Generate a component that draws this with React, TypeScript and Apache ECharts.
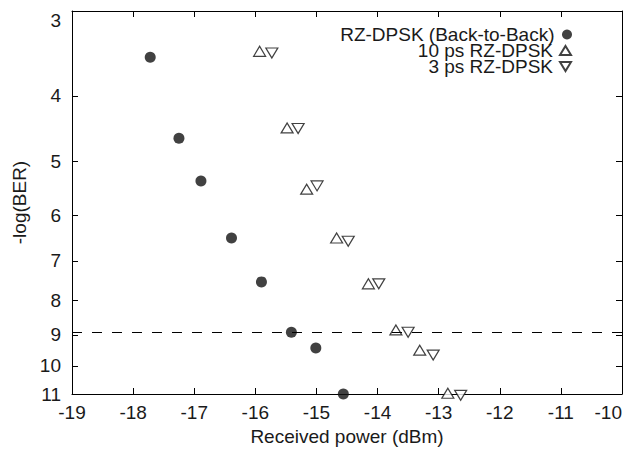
import React, { useEffect, useRef } from "react";
import * as echarts from "echarts";

const xTicks = [-19, -18, -17, -16, -15, -14, -13, -12, -11, -10];
const yTicks = [3, 4, 5, 6, 7, 8, 9, 10, 11];

const seriesNames = ["RZ-DPSK (Back-to-Back)", "10 ps RZ-DPSK", "3 ps RZ-DPSK"];

const backToBackX = [-17.72, -17.25, -16.89, -16.39, -15.9, -15.41, -15.01, -14.56];
const backToBackY = [3.51, 4.62, 5.34, 6.48, 7.52, 8.92, 9.41, 11.0];

const tenPsX = [-15.93, -15.48, -15.16, -14.67, -14.15, -13.7, -13.31, -12.85];
const tenPsY = [3.44, 4.46, 5.49, 6.48, 7.57, 8.85, 9.48, 10.97];

const threePsX = [-15.73, -15.3, -14.99, -14.48, -13.98, -13.5, -13.09, -12.64];
const threePsY = [3.46, 4.47, 5.43, 6.55, 7.57, 8.92, 9.64, 11.05];

const thresholdY = 9;

const FONT = "'Liberation Sans', Arial, sans-serif";
const TXT = "#1a1a1a";

const toPts = (xs: number[], ys: number[]) => xs.map((x, i) => [x, Math.log10(ys[i])]);

const downTri = "path://M0,0 L12,0 L6,10 Z";
const upTri = "path://M6,0 L12,10 L0,10 Z";

export default function App() {
  const ref = useRef<HTMLDivElement>(null);
  useEffect(() => {
    document.body.style.margin = "0";
    const chart = echarts.init(ref.current!, null, { renderer: "svg" });
    const yMin = Math.log10(yTicks[0]);
    const yMax = Math.log10(yTicks[yTicks.length - 1]);
    const yCustom = yTicks.map((v) => Math.log10(v));
    const fmtY = (v: number) => String(Math.round(Math.pow(10, v)));
    const mkTick = (custom?: number[]) => {
      const t: any = { show: true, inside: true, length: 6, lineStyle: { color: "#000", width: 1 } };
      if (custom) t.customValues = custom;
      return t;
    };
    const mkLine = () => ({ show: true, onZero: false, lineStyle: { color: "#000", width: 1 } });
    const legendBase = {
      right: 56,
      orient: "vertical",
      align: "right",
      padding: 0,
      itemWidth: 11,
      itemHeight: 10,
      itemGap: 0,
      textStyle: { fontFamily: FONT, fontSize: 19, color: TXT, lineHeight: 16, padding: [0, 2, 0, 0] },
      selectedMode: false,
    };
    chart.setOption({
      animation: false,
      backgroundColor: "#fff",
      grid: { left: 72, right: 6, top: 11, bottom: 64, containLabel: false },
      legend: [
        { ...legendBase, top: 25, data: [{ name: seriesNames[0], icon: "circle" }] },
        { ...legendBase, top: 41, data: [{ name: seriesNames[1], icon: upTri }] },
        { ...legendBase, top: 57, data: [{ name: seriesNames[2], icon: downTri }] },
      ],
      xAxis: [
        {
          type: "value",
          min: xTicks[0],
          max: xTicks[xTicks.length - 1],
          interval: 1,
          position: "bottom",
          name: "Received power (dBm)",
          nameLocation: "middle",
          nameGap: 29,
          nameTextStyle: { fontFamily: FONT, fontSize: 19, color: TXT },
          axisLine: mkLine(),
          axisTick: mkTick(),
          splitLine: { show: false },
          axisLabel: {
            fontFamily: FONT,
            fontSize: 19,
            color: TXT,
            margin: 9,
            alignMaxLabel: "right",
            formatter: (v: number) => String(v),
          },
        },
        {
          type: "value",
          min: xTicks[0],
          max: xTicks[xTicks.length - 1],
          interval: 1,
          position: "top",
          axisLine: mkLine(),
          axisTick: mkTick(),
          splitLine: { show: false },
          axisLabel: { show: false },
        },
      ],
      yAxis: [
        {
          type: "value",
          inverse: true,
          min: yMin,
          max: yMax,
          position: "left",
          name: "-log(BER)",
          nameLocation: "middle",
          nameGap: 43,
          nameTextStyle: { fontFamily: FONT, fontSize: 19, color: TXT },
          axisLine: mkLine(),
          axisTick: mkTick(yCustom),
          splitLine: { show: false },
          axisLabel: {
            customValues: yCustom,
            formatter: fmtY,
            fontFamily: FONT,
            fontSize: 19,
            color: TXT,
            margin: 11,
            verticalAlignMinLabel: "top",
          },
        },
        {
          type: "value",
          inverse: true,
          min: yMin,
          max: yMax,
          position: "right",
          axisLine: mkLine(),
          axisTick: mkTick(yCustom),
          splitLine: { show: false },
          axisLabel: { show: false, customValues: yCustom },
        },
      ],
      series: [
        {
          type: "line",
          name: "threshold",
          data: [],
          z: 1,
          markLine: {
            silent: true,
            symbol: "none",
            label: { show: false },
            lineStyle: { color: "#000", width: 1, type: [10, 10] },
            data: [{ yAxis: Math.log10(thresholdY) }],
          },
        },
        {
          type: "scatter",
          name: seriesNames[0],
          data: toPts(backToBackX, backToBackY),
          symbol: "circle",
          symbolSize: 11,
          clip: false,
          z: 3,
          itemStyle: { color: "#111" },
        },
        {
          type: "scatter",
          name: seriesNames[1],
          data: toPts(tenPsX, tenPsY),
          symbol: upTri,
          symbolSize: [12, 10],
          clip: false,
          z: 3,
          itemStyle: { color: "#fff", borderColor: "#111", borderWidth: 1.2 },
        },
        {
          type: "scatter",
          name: seriesNames[2],
          data: toPts(threePsX, threePsY),
          symbol: downTri,
          symbolSize: [12, 10],
          clip: false,
          z: 3,
          itemStyle: { color: "#fff", borderColor: "#111", borderWidth: 1.2 },
        },
      ],
    });
    return () => chart.dispose();
  }, []);
  return (
    <div
      ref={ref}
      style={{ position: "fixed", left: 0, top: 0, width: 628, height: 458, background: "#fff" }}
    />
  );
}
